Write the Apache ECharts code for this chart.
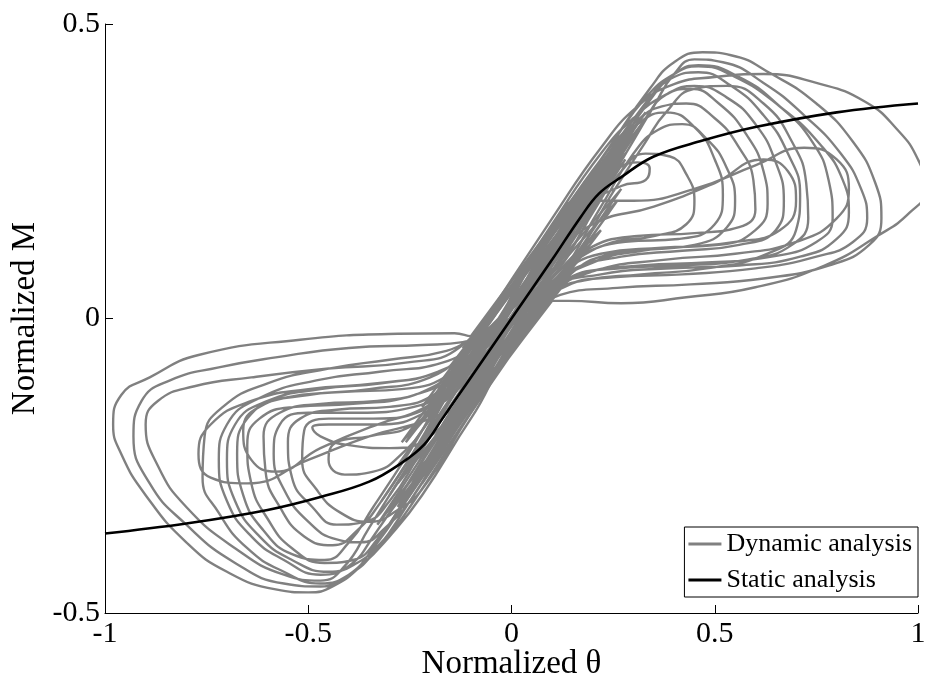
<!DOCTYPE html>
<html>
<head>
<meta charset="utf-8">
<script src="https://cdn.jsdelivr.net/npm/echarts@6/dist/echarts.min.js"></script>
<style>
  html, body { margin: 0; padding: 0; background: #fff; }
  #chart { width: 926px; height: 684px; }
</style>
</head>
<body>
<div id="chart"></div>
<script>
// Static (monotonic) moment-rotation curve
const staticTheta = [-1, -0.8, -0.6, -0.47, -0.35, -0.27, -0.215, -0.17, -0.1, 0, 0.1, 0.17, 0.215, 0.27, 0.35, 0.47, 0.6, 0.8, 1];
const staticM = [-0.365, -0.348, -0.325, -0.303, -0.277, -0.245, -0.214, -0.17, -0.1, 0, 0.1, 0.172, 0.212, 0.24, 0.275, 0.302, 0.325, 0.35, 0.365];

// Dynamic response: cycles with positive rotation excursions [theta, M]
const positiveCycles = [
  [[-0.1,-0.04],[0.1,0.17],[0.22,0.29],[0.31,0.36],[0.4,0.398],[0.5,0.41],[0.62,0.415],[0.75,0.4],[0.87,0.368],[0.95,0.32],[1.0,0.27],[1.02,0.22],[0.98,0.18],[0.9,0.14],[0.77,0.09],[0.6,0.053],[0.43,0.036],[0.27,0.026],[0.14,0.03],[0.1,0.03]],
  [[-0.1,-0.08],[0.1,0.14],[0.25,0.3],[0.34,0.39],[0.4,0.435],[0.47,0.452],[0.54,0.447],[0.64,0.415],[0.75,0.365],[0.84,0.3],[0.895,0.23],[0.91,0.17],[0.88,0.125],[0.78,0.09],[0.62,0.068],[0.44,0.058],[0.26,0.052],[0.12,0.04]],
  [[-0.1,-0.14],[0.1,0.08],[0.25,0.245],[0.35,0.36],[0.4,0.415],[0.45,0.44],[0.52,0.435],[0.62,0.4],[0.72,0.345],[0.81,0.28],[0.86,0.22],[0.875,0.17],[0.84,0.13],[0.75,0.105],[0.6,0.085],[0.42,0.075],[0.25,0.07],[0.12,0.05]],
  [[-0.1,-0.06],[0.1,0.15],[0.25,0.3],[0.33,0.375],[0.4,0.415],[0.46,0.428],[0.55,0.41],[0.66,0.36],[0.76,0.295],[0.815,0.235],[0.83,0.18],[0.8,0.135],[0.71,0.105],[0.56,0.09],[0.38,0.085],[0.22,0.075],[0.1,0.045]],
  [[-0.1,-0.17],[0.1,0.05],[0.25,0.215],[0.33,0.3],[0.38,0.35],[0.45,0.39],[0.53,0.395],[0.62,0.365],[0.69,0.3],[0.725,0.23],[0.73,0.17],[0.69,0.125],[0.58,0.1],[0.42,0.09],[0.26,0.085],[0.12,0.06]],
  [[-0.1,-0.11],[0.1,0.11],[0.25,0.275],[0.34,0.37],[0.4,0.41],[0.46,0.418],[0.54,0.395],[0.62,0.345],[0.68,0.28],[0.71,0.21],[0.7,0.15],[0.63,0.11],[0.48,0.085],[0.32,0.075],[0.18,0.065],[0.09,0.035]],
  [[-0.1,-0.05],[0.1,0.16],[0.22,0.28],[0.3,0.34],[0.38,0.38],[0.45,0.395],[0.53,0.375],[0.6,0.33],[0.65,0.265],[0.67,0.2],[0.65,0.15],[0.56,0.125],[0.42,0.115],[0.27,0.105],[0.14,0.08],[0.08,0.04]],
  [[-0.1,-0.13],[0.1,0.09],[0.25,0.255],[0.33,0.34],[0.38,0.38],[0.44,0.39],[0.51,0.365],[0.58,0.31],[0.62,0.25],[0.63,0.195],[0.6,0.15],[0.51,0.125],[0.37,0.12],[0.22,0.11],[0.11,0.06]],
  [[-0.1,-0.07],[0.1,0.15],[0.22,0.27],[0.3,0.33],[0.37,0.36],[0.43,0.365],[0.5,0.34],[0.56,0.29],[0.595,0.235],[0.6,0.185],[0.56,0.155],[0.45,0.145],[0.31,0.14],[0.18,0.115],[0.1,0.06]],
  [[-0.1,-0.16],[0.1,0.06],[0.22,0.19],[0.3,0.28],[0.36,0.32],[0.42,0.33],[0.48,0.305],[0.53,0.255],[0.55,0.2],[0.53,0.155],[0.45,0.125],[0.32,0.115],[0.2,0.095],[0.1,0.05]],
  [[-0.1,-0.09],[0.1,0.13],[0.24,0.28],[0.31,0.33],[0.38,0.35],[0.45,0.325],[0.5,0.27],[0.52,0.21],[0.5,0.16],[0.41,0.135],[0.28,0.13],[0.16,0.1],[0.09,0.05]],
  [[-0.1,-0.15],[0.1,0.07],[0.2,0.18],[0.27,0.25],[0.33,0.28],[0.39,0.275],[0.43,0.245],[0.45,0.2],[0.43,0.16],[0.35,0.14],[0.23,0.125],[0.13,0.08]],
  [[-0.1,-0.05],[0.1,0.16],[0.2,0.23],[0.26,0.255],[0.31,0.265],[0.34,0.255],[0.33,0.235],[0.27,0.225],[0.19,0.19],[0.12,0.11]],
  [[-0.1,-0.1],[0.1,0.12],[0.25,0.285],[0.34,0.375],[0.4,0.415],[0.46,0.43],[0.56,0.41],[0.66,0.36],[0.74,0.3],[0.78,0.235],[0.79,0.17],[0.75,0.13],[0.64,0.105],[0.48,0.095],[0.32,0.09],[0.17,0.075],[0.09,0.03]],
  [[-0.1,-0.05],[0.1,0.15],[0.18,0.2],[0.3,0.2],[0.45,0.22],[0.6,0.26],[0.72,0.29],[0.8,0.27],[0.83,0.22],[0.8,0.17],[0.7,0.13],[0.55,0.11],[0.38,0.1],[0.2,0.08],[0.1,0.04]],
  [[-0.1,-0.12],[0.1,0.1],[0.2,0.16],[0.35,0.19],[0.5,0.23],[0.62,0.27],[0.68,0.25],[0.7,0.2],[0.66,0.15],[0.55,0.13],[0.4,0.12],[0.25,0.11],[0.12,0.06]]
];

// Dynamic response: cycles with negative rotation excursions [theta, M]
const negativeCycles = [
  [[0.1,0.04],[-0.1,-0.17],[-0.22,-0.3],[-0.3,-0.37],[-0.37,-0.42],[-0.44,-0.455],[-0.5,-0.465],[-0.58,-0.46],[-0.7,-0.43],[-0.8,-0.38],[-0.9,-0.3],[-0.96,-0.23],[-0.98,-0.18],[-0.96,-0.13],[-0.89,-0.1],[-0.77,-0.062],[-0.52,-0.036],[-0.28,-0.026],[-0.14,-0.025],[-0.1,-0.03]],
  [[0.1,0.08],[-0.1,-0.14],[-0.25,-0.3],[-0.34,-0.39],[-0.4,-0.435],[-0.47,-0.455],[-0.56,-0.45],[-0.68,-0.415],[-0.8,-0.35],[-0.89,-0.28],[-0.93,-0.2],[-0.91,-0.14],[-0.84,-0.105],[-0.72,-0.083],[-0.58,-0.066],[-0.4,-0.05],[-0.22,-0.045],[-0.12,-0.04]],
  [[0.1,0.14],[-0.1,-0.08],[-0.25,-0.245],[-0.35,-0.355],[-0.41,-0.42],[-0.47,-0.445],[-0.56,-0.435],[-0.68,-0.39],[-0.8,-0.32],[-0.87,-0.25],[-0.9,-0.18],[-0.87,-0.14],[-0.78,-0.115],[-0.64,-0.1],[-0.45,-0.085],[-0.26,-0.075],[-0.13,-0.05]],
  [[0.1,0.06],[-0.1,-0.15],[-0.25,-0.31],[-0.33,-0.39],[-0.4,-0.435],[-0.47,-0.45],[-0.56,-0.43],[-0.65,-0.39],[-0.72,-0.33],[-0.76,-0.27],[-0.755,-0.2],[-0.71,-0.15],[-0.6,-0.11],[-0.45,-0.085],[-0.3,-0.07],[-0.16,-0.055],[-0.09,-0.03]],
  [[0.1,0.11],[-0.1,-0.11],[-0.25,-0.275],[-0.34,-0.37],[-0.4,-0.42],[-0.47,-0.435],[-0.56,-0.41],[-0.64,-0.37],[-0.7,-0.31],[-0.72,-0.24],[-0.7,-0.18],[-0.62,-0.135],[-0.48,-0.105],[-0.32,-0.09],[-0.17,-0.075],[-0.09,-0.04]],
  [[0.1,0.05],[-0.1,-0.16],[-0.25,-0.32],[-0.32,-0.38],[-0.38,-0.415],[-0.45,-0.43],[-0.54,-0.41],[-0.62,-0.37],[-0.68,-0.31],[-0.7,-0.24],[-0.68,-0.18],[-0.6,-0.14],[-0.47,-0.12],[-0.32,-0.11],[-0.18,-0.09],[-0.1,-0.05]],
  [[0.1,0.16],[-0.1,-0.06],[-0.25,-0.225],[-0.34,-0.32],[-0.4,-0.38],[-0.46,-0.41],[-0.54,-0.4],[-0.61,-0.36],[-0.66,-0.3],[-0.675,-0.23],[-0.65,-0.17],[-0.56,-0.135],[-0.42,-0.125],[-0.27,-0.12],[-0.14,-0.09],[-0.08,-0.04]],
  [[0.1,0.09],[-0.1,-0.13],[-0.25,-0.295],[-0.33,-0.375],[-0.39,-0.41],[-0.46,-0.415],[-0.54,-0.39],[-0.6,-0.34],[-0.64,-0.28],[-0.65,-0.215],[-0.62,-0.17],[-0.53,-0.15],[-0.39,-0.145],[-0.24,-0.13],[-0.12,-0.08]],
  [[0.1,0.15],[-0.1,-0.07],[-0.24,-0.225],[-0.32,-0.31],[-0.38,-0.36],[-0.44,-0.385],[-0.51,-0.37],[-0.57,-0.32],[-0.605,-0.26],[-0.61,-0.2],[-0.57,-0.16],[-0.47,-0.145],[-0.33,-0.14],[-0.19,-0.115],[-0.1,-0.06]],
  [[0.1,0.07],[-0.1,-0.15],[-0.24,-0.3],[-0.31,-0.355],[-0.37,-0.38],[-0.43,-0.375],[-0.5,-0.345],[-0.56,-0.29],[-0.585,-0.23],[-0.57,-0.18],[-0.5,-0.16],[-0.38,-0.16],[-0.24,-0.15],[-0.12,-0.09]],
  [[0.1,0.13],[-0.1,-0.09],[-0.23,-0.235],[-0.3,-0.31],[-0.36,-0.345],[-0.43,-0.35],[-0.49,-0.32],[-0.54,-0.27],[-0.55,-0.21],[-0.52,-0.17],[-0.43,-0.155],[-0.3,-0.15],[-0.18,-0.125],[-0.09,-0.06]],
  [[0.1,0.05],[-0.1,-0.16],[-0.22,-0.29],[-0.28,-0.325],[-0.35,-0.345],[-0.42,-0.33],[-0.48,-0.29],[-0.515,-0.24],[-0.51,-0.19],[-0.45,-0.17],[-0.34,-0.17],[-0.21,-0.15],[-0.1,-0.08]],
  [[0.1,0.16],[-0.1,-0.06],[-0.2,-0.17],[-0.27,-0.23],[-0.34,-0.26],[-0.41,-0.265],[-0.45,-0.24],[-0.43,-0.21],[-0.35,-0.2],[-0.24,-0.18],[-0.13,-0.11]],
  [[0.1,0.11],[-0.1,-0.11],[-0.2,-0.2],[-0.3,-0.22],[-0.4,-0.215],[-0.47,-0.2],[-0.49,-0.185],[-0.45,-0.18],[-0.34,-0.18],[-0.2,-0.155],[-0.1,-0.09]],
  [[0.1,0.09],[-0.1,-0.13],[-0.2,-0.17],[-0.35,-0.2],[-0.5,-0.24],[-0.65,-0.28],[-0.74,-0.27],[-0.77,-0.23],[-0.74,-0.18],[-0.64,-0.14],[-0.5,-0.12],[-0.33,-0.11],[-0.18,-0.09],[-0.1,-0.05]],
  [[0.1,0.12],[-0.1,-0.1],[-0.2,-0.15],[-0.33,-0.18],[-0.47,-0.22],[-0.58,-0.26],[-0.64,-0.24],[-0.66,-0.19],[-0.62,-0.15],[-0.5,-0.13],[-0.35,-0.12],[-0.2,-0.1],[-0.1,-0.05]]
];

// Dynamic response: small near-elastic oscillations about the origin [theta, M]
const elasticOscillations = [
  [-0.28,-0.25],[0.27,0.3],[-0.3,-0.35],[0.28,0.27],[-0.26,-0.21],[0.3,0.34],[-0.3,-0.35],[0.25,0.28],
  [-0.24,-0.28],[0.24,0.18],[-0.28,-0.32],[0.29,0.32],[-0.2,-0.14],[0.2,0.14],[-0.22,-0.28],[0.22,0.26],
  [-0.3,-0.3],[0.3,0.31],[-0.29,-0.34],[0.24,0.23],[-0.25,-0.2],[0.27,0.22],[-0.27,-0.32],[0.29,0.33],
  [-0.18,-0.12],[0.18,0.22],[-0.24,-0.29],[0.26,0.2],[-0.27,-0.21],[0.3,0.33],
  [-0.32,-0.31],[0.33,0.35],[-0.15,-0.08],[0.15,0.08],[-0.31,-0.33],[0.31,0.33],[-0.12,-0.05],[0.12,0.05],
  [-0.26,-0.3],[0.26,0.3],[-0.22,-0.15],[0.22,0.15],[-0.33,-0.35],[0.32,0.33],[-0.16,-0.1],[0.16,0.1],
  [-0.28,-0.28],[0.28,0.28],[-0.2,-0.25],[0.2,0.25],[-0.1,-0.03],[0.1,0.03],[-0.3,-0.33],[0.3,0.32]
];

const xTicks = [-1, -0.5, 0, 0.5, 1];
const yTicks = [-0.5, 0, 0.5];

const FONT = 'Liberation Serif';
const GRAY = '#808080';

// One continuous time history: positive and negative excursions alternate;
// each cycle after the first continues from where the previous one ended
let dynamicPath = [];
const nCycles = Math.max(positiveCycles.length, negativeCycles.length);
for (let i = 0; i < nCycles; i++) {
  [positiveCycles[i], negativeCycles[i]].forEach(function (cycle) {
    if (!cycle) return;
    dynamicPath = dynamicPath.concat(dynamicPath.length ? cycle.slice(1) : cycle);
  });
}

const grayLine = { color: GRAY, width: 2.4 };

const chart = echarts.init(document.getElementById('chart'), null, { renderer: 'canvas' });
chart.setOption({
  animation: false,
  backgroundColor: '#fff',
  grid: { left: 105, right: 8, top: 24, bottom: 71, containLabel: false, outerBoundsMode: 'none' },
  legend: {
    data: ['Dynamic analysis', 'Static analysis'],
    orient: 'vertical',
    right: 8,
    top: 527,
    padding: [4, 6, 4, 4],
    itemGap: 10,
    itemWidth: 33,
    itemHeight: 3,
    icon: 'rect',
    borderColor: '#000',
    borderWidth: 1,
    borderRadius: 0,
    backgroundColor: '#fff',
    textStyle: { fontFamily: FONT, fontSize: 26, color: '#000' }
  },
  xAxis: {
    type: 'value',
    min: xTicks[0],
    max: xTicks[xTicks.length - 1],
    interval: 0.5,
    name: 'Normalized θ',
    nameLocation: 'middle',
    nameGap: 35,
    nameMoveOverlap: false,
    nameTextStyle: { fontFamily: FONT, fontSize: 33, color: '#000' },
    axisLine: { onZero: false, lineStyle: { color: '#000', width: 1 } },
    axisTick: { inside: true, length: 8, lineStyle: { color: '#000' } },
    axisLabel: { fontFamily: FONT, fontSize: 30, color: '#000', margin: 6 },
    splitLine: { show: false }
  },
  yAxis: {
    type: 'value',
    min: yTicks[0],
    max: yTicks[yTicks.length - 1],
    interval: 0.5,
    name: 'Normalized M',
    nameLocation: 'middle',
    nameGap: 56,
    nameTextStyle: { fontFamily: FONT, fontSize: 33, color: '#000' },
    axisLine: { onZero: false, lineStyle: { color: '#000', width: 1 } },
    axisTick: { inside: true, length: 8, lineStyle: { color: '#000' } },
    axisLabel: { fontFamily: FONT, fontSize: 30, color: '#000', margin: 5 },
    splitLine: { show: false }
  },
  series: [
    {
      name: 'Dynamic analysis',
      type: 'line',
      data: elasticOscillations,
      smooth: false,
      symbol: 'none',
      silent: true,
      lineStyle: grayLine,
      itemStyle: { color: GRAY }
    },
    {
      name: 'Dynamic analysis',
      type: 'line',
      data: dynamicPath,
      smooth: 0.5,
      symbol: 'none',
      silent: true,
      lineStyle: grayLine,
      itemStyle: { color: GRAY }
    },
    {
      name: 'Static analysis',
      type: 'line',
      data: staticTheta.map(function (t, i) { return [t, staticM[i]]; }),
      smooth: 0.4,
      symbol: 'none',
      silent: true,
      z: 5,
      lineStyle: { color: '#000', width: 2.6 },
      itemStyle: { color: '#000' }
    }
  ]
});
</script>
</body>
</html>
